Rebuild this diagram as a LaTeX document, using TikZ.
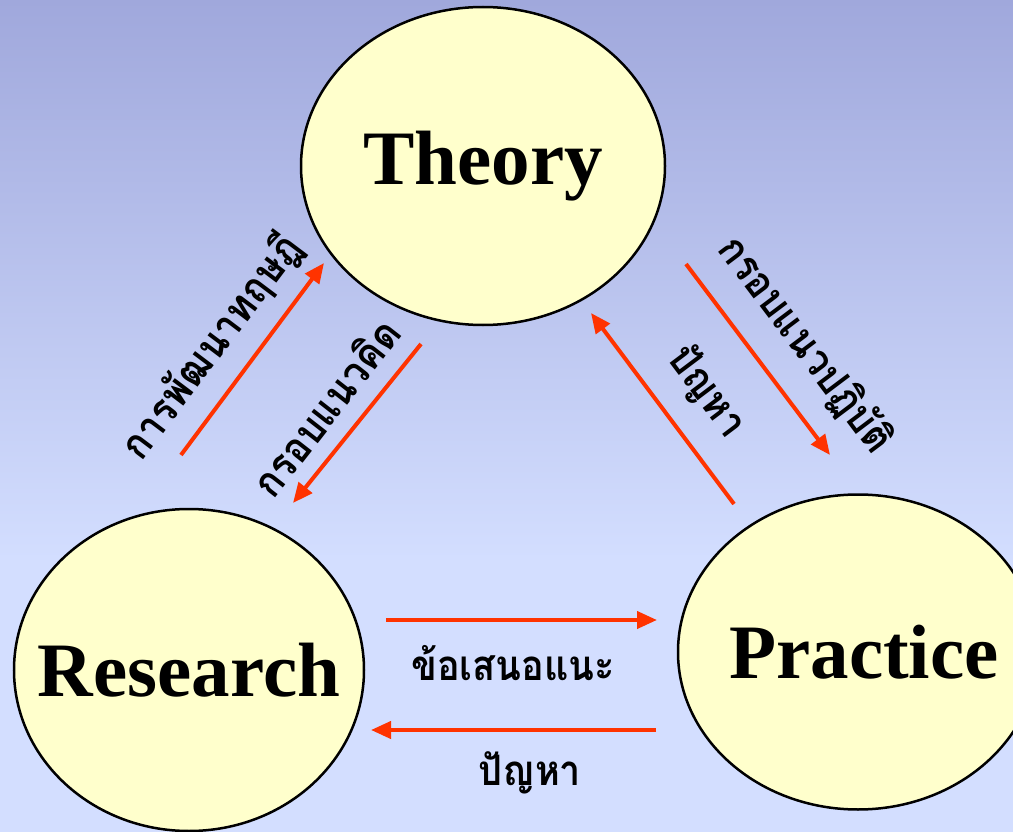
\documentclass[tikz,border=0pt]{standalone}
\usepackage{fontspec}
\setmainfont{Liberation Serif}
\newfontfamily\thaifont[Script=Thai,FakeStretch=0.9]{Loma}
\usetikzlibrary{shapes.geometric,arrows.meta}
\definecolor{paleyellow}{HTML}{FFFFCC}
\definecolor{linkred}{HTML}{FF3300}
\definecolor{bgtop}{HTML}{A0A8DC}
\definecolor{bgbottom}{HTML}{D3DEFF}
\tikzset{
  circ/.style={ellipse,draw,line width=2.5pt,fill=paleyellow,inner sep=0},
  circtext/.style={font=\fontsize{77}{80}\selectfont\bfseries,inner sep=0},
  link/.style={draw=linkred,line width=4pt,-{Triangle[length=20pt,width=17pt]}},
  lbl/.style={font=\thaifont\bfseries\fontsize{42}{46}\selectfont,inner sep=0}
}
\begin{document}
\begin{tikzpicture}[x=1pt,y=-1pt]
\path[use as bounding box,clip] (0,0) rectangle (1013,832);
\fill[top color=bgtop,bottom color=bgbottom] (0,0) rectangle (1013,560);
\fill[bgbottom] (0,559) rectangle (1013,832);
\node[circ,minimum width=364pt,minimum height=318pt,label={[circtext]center:Theory}] (theory) at (483,166) {};
\node[circ,minimum width=350pt,minimum height=322pt,label={[circtext]center:Research}] (research) at (189,670) {};
\node[circ,minimum width=360pt,minimum height=315pt,label={[circtext,xshift=6pt]center:Practice}] (practice) at (858,652) {};
\coordinate (dev-s) at (181,455); \coordinate (dev-e) at (324,263);
\coordinate (con-s) at (421,344); \coordinate (con-e) at (293,503);
\coordinate (frame-s) at (686,264); \coordinate (frame-e) at (830,455);
\coordinate (prob-s) at (734,504); \coordinate (prob-e) at (591,313);
\coordinate (sug-s) at (386,620); \coordinate (sug-e) at (657,620);
\coordinate (back-s) at (656,730); \coordinate (back-e) at (371,730);
\draw[link] (dev-s) -- (dev-e);
\draw[link] (con-s) -- (con-e);
\draw[link] (frame-s) -- (frame-e);
\draw[link] (prob-s) -- (prob-e);
\draw[link] (sug-s) -- (sug-e);
\draw[link] (back-s) -- (back-e);
\node[lbl,rotate=53] (devlbl) at (212,347) {การพัฒนาทฤษฎี};
\node[lbl,rotate=52] (conlbl) at (325,407) {กรอบแนวคิด};
\node[lbl,rotate=-53] (framelbl) at (805,345) {กรอบแนวปฏิบัติ};
\node[lbl,rotate=-53] (problbl) at (707,392) {ปัญหา};
\node[lbl] (suglbl) at (513,663) {ข้อเสนอแนะ};
\node[lbl] (backlbl) at (530,773) {ปัญหา};
\end{tikzpicture}
\end{document}
